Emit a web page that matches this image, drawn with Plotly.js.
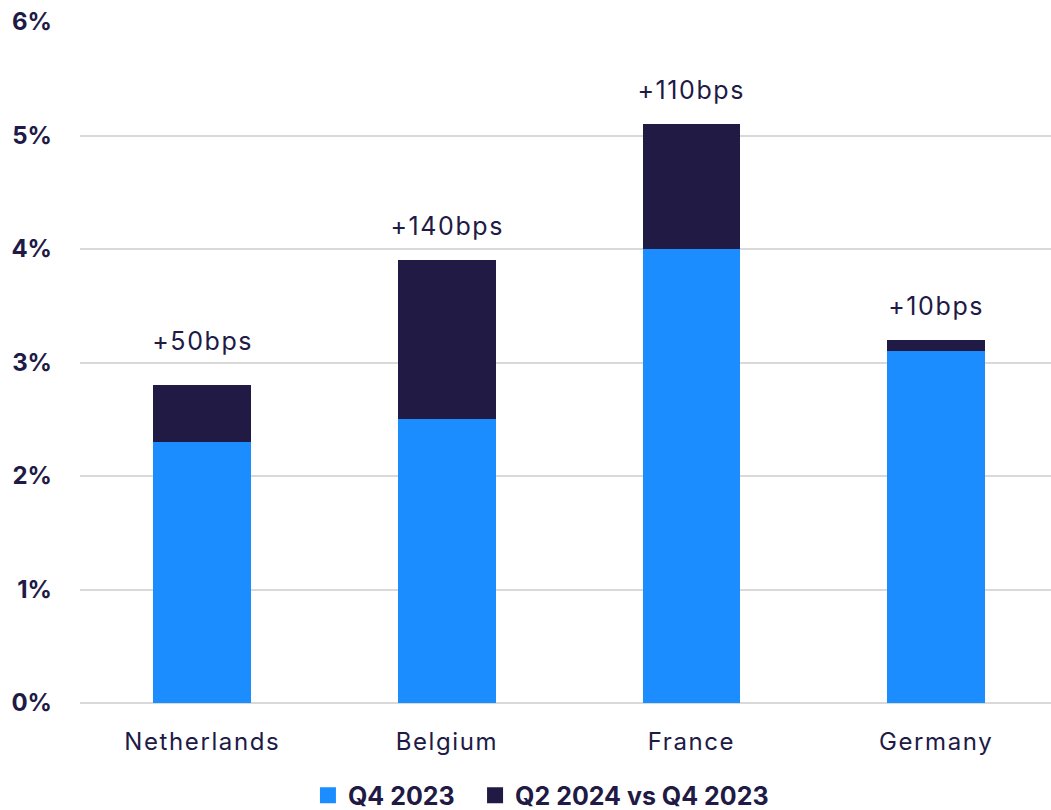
<!DOCTYPE html>
<html>
<head>
<meta charset="utf-8">
<script src="https://cdn.plot.ly/plotly-3.0.1.min.js"></script>
<style>
  html, body { margin: 0; padding: 0; background: #ffffff; }
  #chart { width: 1051px; height: 810px; }
  /* slightly open tracking on category and value labels */
  #chart .xtick text { letter-spacing: 1.6px; }
  #chart .annotation-text { letter-spacing: 1.6px; }
</style>
</head>
<body>
<div id="chart"></div>
<script>
// Prime yields by country (%), stacked: Q4 2023 base plus change to Q2 2024
const countries = ['Netherlands', 'Belgium', 'France', 'Germany'];
const q4_2023 = [2.3, 2.5, 4.0, 3.1];
const change_q2_2024 = [0.5, 1.4, 1.1, 0.1];
const seriesNames = ['Q4 2023', 'Q2 2024 vs Q4 2023'];

const NAVY = '#201A45';
const BLUE = '#1C8DFF';
const FONT = 'Inter, "Noto Sans", sans-serif';

const traces = [
  {
    type: 'bar',
    name: seriesNames[0],
    x: countries,
    y: q4_2023,
    marker: { color: BLUE },
    width: 0.4,
    showlegend: false,
    hoverinfo: 'x+y'
  },
  {
    type: 'bar',
    name: seriesNames[1],
    x: countries,
    y: change_q2_2024,
    marker: { color: NAVY },
    width: 0.4,
    showlegend: false,
    hoverinfo: 'x+y'
  },
  // legend entries with larger square swatches, one legend box each
  {
    type: 'scatter',
    mode: 'markers',
    name: seriesNames[0],
    x: [null],
    y: [null],
    marker: { symbol: 'square', size: 16, color: BLUE },
    legend: 'legend',
    hoverinfo: 'skip'
  },
  {
    type: 'scatter',
    mode: 'markers',
    name: seriesNames[1],
    x: [null],
    y: [null],
    marker: { symbol: 'square', size: 16, color: NAVY },
    legend: 'legend2',
    hoverinfo: 'skip'
  }
];

// Change labels above each stack, in basis points
const annotations = countries.map((c, i) => ({
  x: c,
  y: q4_2023[i] + change_q2_2024[i],
  xref: 'x',
  yref: 'y',
  text: '+' + Math.round(change_q2_2024[i] * 100) + 'bps',
  showarrow: false,
  yanchor: 'bottom',
  yshift: i === 0 ? 27 : 17,
  font: { family: FONT, size: 25, color: NAVY }
}));

const legendBase = {
  orientation: 'h',
  xref: 'container',
  yref: 'container',
  xanchor: 'left',
  y: 0.018,
  yanchor: 'middle',
  itemwidth: 30,
  itemsizing: 'trace',
  bgcolor: 'rgba(0,0,0,0)',
  font: { family: FONT, size: 25, color: NAVY, weight: 'bold' }
};

const layout = {
  width: 1051,
  height: 810,
  margin: { l: 80, r: 0, t: 22, b: 107 },
  paper_bgcolor: '#ffffff',
  plot_bgcolor: '#ffffff',
  barmode: 'stack',
  showlegend: true,
  font: { family: FONT, color: NAVY },
  xaxis: {
    type: 'category',
    range: [-0.5, 3.47],
    showgrid: false,
    showline: false,
    zeroline: false,
    ticks: '',
    ticklabelstandoff: 22,
    tickfont: { family: FONT, size: 24, color: NAVY }
  },
  yaxis: {
    range: [0, 6],
    dtick: 1,
    tick0: 0,
    ticksuffix: '%',
    showgrid: true,
    gridcolor: '#D9D9D9',
    gridwidth: 2,
    zeroline: true,
    zerolinecolor: '#D9D9D9',
    zerolinewidth: 2,
    showline: false,
    ticks: '',
    ticklabelstandoff: 27,
    tickfont: { family: FONT, size: 24, color: NAVY, weight: 'bold' }
  },
  legend: Object.assign({}, legendBase, { x: 0.293 }),
  legend2: Object.assign({}, legendBase, { x: 0.452 }),
  annotations: annotations
};

Plotly.newPlot('chart', traces, layout, { displayModeBar: false, staticPlot: true });
</script>
</body>
</html>
